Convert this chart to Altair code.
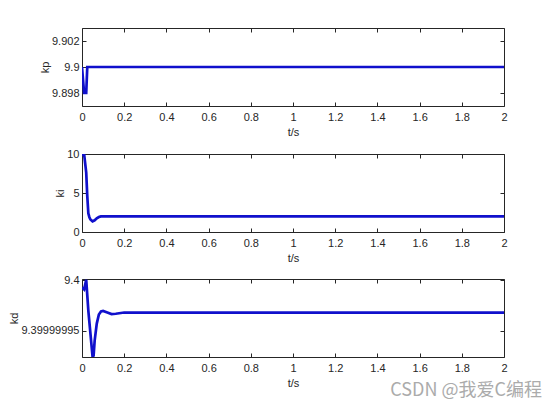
import altair as alt
import pandas as pd

# ---- data ----
x_ticks = [0, 0.2, 0.4, 0.6, 0.8, 1.0, 1.2, 1.4, 1.6, 1.8, 2.0]

t_kp = [0, 0.01, 0.02, 0.025, 2]
kp = [9.9, 9.898, 9.898, 9.9, 9.9]
kp_ticks = [9.898, 9.9, 9.902]

t_ki = [0, 0.01, 0.02, 0.025, 0.03, 0.035, 0.04, 0.05, 0.06, 0.07, 0.08, 0.09, 0.1, 0.15, 2]
ki = [9.8, 10.0, 7.6, 4.6, 2.4, 1.9, 1.6, 1.37, 1.5, 1.75, 1.92, 2.0, 2.02, 2.0, 2.0]
ki_ticks = [0, 5, 10]

t_kd = [0, 0.01, 0.02, 0.03, 0.04, 0.05, 0.055, 0.06, 0.07, 0.08, 0.09, 0.1, 0.12, 0.14, 0.16, 0.2, 2]
kd = [9.399999993, 9.399999991, 9.4000000005, 9.39999997, 9.399999947, 9.399999924,
      9.399999925, 9.39999994, 9.399999957, 9.399999966, 9.399999969, 9.3999999695,
      9.399999968, 9.3999999665, 9.3999999668, 9.399999968, 9.399999968]
kd_ticks = [9.39999995, 9.4]

watermark = ["CSDN @我爱C编程"]

FONT = "Liberation Sans"
TXT = "#262626"
BLUE = "#1010cc"
W, H = 422, 78


def panel(t, v, ydom, yticks, yfmt, ytitle, wm=False):
    df = pd.DataFrame({"t": t, "v": v})
    xs = alt.Scale(domain=[0, 2], nice=False, zero=False)
    ys = alt.Scale(domain=ydom, nice=False, zero=False)
    common = dict(offset=-4, tickSize=4, domain=False, grid=False, tickColor=TXT)
    xb = alt.Axis(values=x_ticks, format=".1~f", title="t/s", orient="bottom",
                  labelPadding=5, titlePadding=4, labelFlush=False, **common)
    yl = alt.Axis(values=yticks, format=yfmt, title=ytitle, orient="left",
                  labelPadding=3, titlePadding=1, **common)
    xt = alt.Axis(values=x_ticks, labels=False, title=None, orient="top", **common)
    yr = alt.Axis(values=yticks, labels=False, title=None, orient="right", **common)
    line = alt.Chart(df).mark_line(color=BLUE, strokeWidth=2.7, clip=True).encode(
        x=alt.X("t:Q", scale=xs, axis=xb),
        y=alt.Y("v:Q", scale=ys, axis=yl),
    )
    ghost = alt.Chart(df).mark_line(strokeOpacity=0, clip=True).encode(
        x=alt.X("t:Q", scale=xs, axis=xt),
        y=alt.Y("v:Q", scale=ys, axis=yr),
    )
    layers = [line, ghost]
    if wm:
        txt = alt.Chart(pd.DataFrame({"s": watermark})).mark_text(
            align="right", baseline="middle", fontSize=18, font="Noto Sans CJK SC",
            color="#ababab", clip=False
        ).encode(x=alt.value(460), y=alt.value(112), text="s:N")
        layers.append(txt)
    return alt.layer(*layers).resolve_axis(x="independent", y="independent").properties(
        width=W, height=H)


p1 = panel(t_kp, kp, [9.897, 9.903], kp_ticks, ".3~f", "kp")
p2 = panel(t_ki, ki, [0, 10], ki_ticks, "d", "ki")
p3 = panel(t_kd, kd, [9.3999999237, 9.4000000014], kd_ticks, ".8~f", "kd", wm=True)

chart = alt.vconcat(p1, p2, p3, spacing=9).properties(
    padding={"left": 0, "top": 19, "right": 0, "bottom": 0},
    background="white",
).configure_view(stroke=TXT, strokeWidth=1).configure_axis(
    labelFont=FONT, labelFontSize=11, labelColor=TXT,
    titleFont=FONT, titleFontSize=11, titleFontWeight="normal", titleColor=TXT,
)

chart.save("out.html", embed_options={"renderer": "svg", "actions": False})
